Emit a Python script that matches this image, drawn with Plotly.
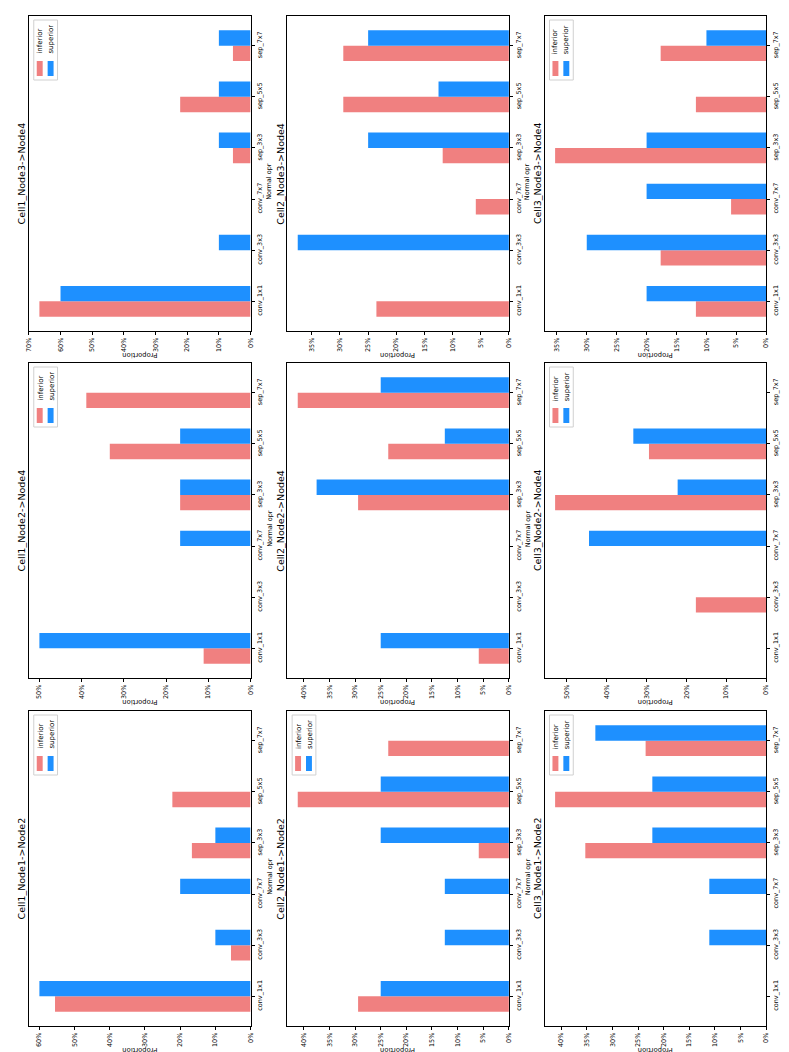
import plotly.graph_objects as go

W, H = 789, 1052

categories = ["conv_1x1", "conv_3x3", "conv_7x7", "sep_3x3", "sep_5x5", "sep_7x7"]
series_names = ["inferior", "superior"]
titles = {
    ("Cell1", "n1n2"): "Cell1_Node1->Node2",
    ("Cell2", "n1n2"): "Cell2_Node1->Node2",
    ("Cell3", "n1n2"): "Cell3_Node1->Node2",
    ("Cell1", "n2n4"): "Cell1_Node2->Node4",
    ("Cell2", "n2n4"): "Cell2_Node2->Node4",
    ("Cell3", "n2n4"): "Cell3_Node2->Node4",
    ("Cell1", "n3n4"): "Cell1_Node3->Node4",
    ("Cell2", "n3n4"): "Cell2_Node3->Node4",
    ("Cell3", "n3n4"): "Cell3_Node3->Node4",
}

# proportions (fractions) per category
c1_n1n2_inf = [0.5556, 0.0556, 0.0, 0.1667, 0.2222, 0.0]
c1_n1n2_sup = [0.60, 0.10, 0.20, 0.10, 0.0, 0.0]
c2_n1n2_inf = [0.2941, 0.0, 0.0, 0.0588, 0.4118, 0.2353]
c2_n1n2_sup = [0.25, 0.125, 0.125, 0.25, 0.25, 0.0]
c3_n1n2_inf = [0.0, 0.0, 0.0, 0.3529, 0.4118, 0.2353]
c3_n1n2_sup = [0.0, 0.1111, 0.1111, 0.2222, 0.2222, 0.3333]
c1_n2n4_inf = [0.1111, 0.0, 0.0, 0.1667, 0.3333, 0.3889]
c1_n2n4_sup = [0.50, 0.0, 0.1667, 0.1667, 0.1667, 0.0]
c2_n2n4_inf = [0.0588, 0.0, 0.0, 0.2941, 0.2353, 0.4118]
c2_n2n4_sup = [0.25, 0.0, 0.0, 0.375, 0.125, 0.25]
c3_n2n4_inf = [0.0, 0.1765, 0.0, 0.5294, 0.2941, 0.0]
c3_n2n4_sup = [0.0, 0.0, 0.4444, 0.2222, 0.3333, 0.0]
c1_n3n4_inf = [0.6667, 0.0, 0.0, 0.0556, 0.2222, 0.0556]
c1_n3n4_sup = [0.60, 0.10, 0.0, 0.10, 0.10, 0.10]
c2_n3n4_inf = [0.2353, 0.0, 0.0588, 0.1176, 0.2941, 0.2941]
c2_n3n4_sup = [0.0, 0.375, 0.0, 0.25, 0.125, 0.25]
c3_n3n4_inf = [0.1176, 0.1765, 0.0588, 0.3529, 0.1176, 0.1765]
c3_n3n4_sup = [0.20, 0.30, 0.20, 0.20, 0.0, 0.10]

panels = [
    ("Cell1", "n1n2", c1_n1n2_inf, c1_n1n2_sup, True),
    ("Cell2", "n1n2", c2_n1n2_inf, c2_n1n2_sup, True),
    ("Cell3", "n1n2", c3_n1n2_inf, c3_n1n2_sup, True),
    ("Cell1", "n2n4", c1_n2n4_inf, c1_n2n4_sup, True),
    ("Cell2", "n2n4", c2_n2n4_inf, c2_n2n4_sup, False),
    ("Cell3", "n2n4", c3_n2n4_inf, c3_n2n4_sup, True),
    ("Cell1", "n3n4", c1_n3n4_inf, c1_n3n4_sup, True),
    ("Cell2", "n3n4", c2_n3n4_inf, c2_n3n4_sup, False),
    ("Cell3", "n3n4", c3_n3n4_inf, c3_n3n4_sup, True),
]

COL_INF = "#F08080"
COL_SUP = "#1E90FF"
FONT = "DejaVu Sans"

col_left = {"Cell1": 17, "Cell2": 278, "Cell3": 538}
row_top = {"n1n2": 703, "n2n4": 355, "n3n4": 8}
FW, FH = 224, 315


def pxx(x):
    return x / W


def pxy(y):
    return 1 - y / H


fig = go.Figure()
layout = {}
annotations = []
shapes = []
pos = list(range(len(categories)))

for i, (cell, edge, inf, sup, has_leg) in enumerate(panels):
    n = i + 1
    xs = "x" if n == 1 else f"x{n}"
    ys = "y" if n == 1 else f"y{n}"
    L, T = col_left[cell], row_top[edge]
    vmax = max(max(inf), max(sup))
    rmax = vmax * 1.05
    dt = 0.1 if rmax > 0.45 else 0.05

    fig.add_trace(go.Bar(x=inf, y=pos, orientation="h", width=0.3, offset=-0.3,
                         marker=dict(color=COL_INF, line=dict(width=0)),
                         name=series_names[0], showlegend=False, xaxis=xs, yaxis=ys))
    fig.add_trace(go.Bar(x=sup, y=pos, orientation="h", width=0.3, offset=0.0,
                         marker=dict(color=COL_SUP, line=dict(width=0)),
                         name=series_names[1], showlegend=False, xaxis=xs, yaxis=ys))

    xk = "xaxis" if n == 1 else f"xaxis{n}"
    yk = "yaxis" if n == 1 else f"yaxis{n}"
    layout[xk] = dict(domain=[pxx(L), pxx(L + FW)], anchor=ys, range=[rmax, 0],
                      tickformat=".0%", tick0=0, dtick=dt, tickangle=-90,
                      ticks="outside", ticklen=3, tickwidth=1, tickcolor="black",
                      showline=True, mirror=True, linecolor="black", linewidth=1,
                      showgrid=False, zeroline=False,
                      tickfont=dict(size=6.5, family=FONT, color="black"))
    layout[yk] = dict(domain=[pxy(T + FH), pxy(T)], anchor=xs, side="right",
                      range=[-0.58, 5.58], tickvals=pos, ticktext=categories,
                      tickangle=-90, ticks="outside", ticklen=3, tickwidth=1,
                      tickcolor="black", showline=True, mirror=True,
                      linecolor="black", linewidth=1, showgrid=False, zeroline=False,
                      tickfont=dict(size=6.5, family=FONT, color="black"))

    annotations.append(dict(text=titles[(cell, edge)], x=pxx(L - 7), y=pxy(T + FH / 2),
                            xref="paper", yref="paper", textangle=-90, showarrow=False,
                            xanchor="center", yanchor="middle",
                            font=dict(size=9.5, family=FONT, color="black")))
    annotations.append(dict(text="Proportion", x=pxx(L + FW / 2), y=pxy(T + FH + 24),
                            xref="paper", yref="paper", textangle=180, showarrow=False,
                            xanchor="center", yanchor="middle", borderpad=0,
                            font=dict(size=6.8, family=FONT, color="black")))
    annotations.append(dict(text="Normal opr", x=pxx(L + FW + 19), y=pxy(T + FH / 2 + 8),
                            xref="paper", yref="paper", textangle=-90, showarrow=False,
                            xanchor="center", yanchor="middle",
                            font=dict(size=6.5, family=FONT, color="black")))

    if has_leg:
        shapes.append(dict(type="rect", xref="paper", yref="paper",
                           x0=pxx(L + 5), x1=pxx(L + 29), y0=pxy(T + 64), y1=pxy(T + 4),
                           line=dict(color="#d0d0d0", width=1), fillcolor="white"))
        for k, (col, cx) in enumerate([(COL_INF, 11), (COL_SUP, 22)]):
            shapes.append(dict(type="rect", xref="paper", yref="paper",
                               x0=pxx(L + cx - 3), x1=pxx(L + cx + 3),
                               y0=pxy(T + 60), y1=pxy(T + 45),
                               line=dict(width=0), fillcolor=col))
            annotations.append(dict(text=series_names[k], x=pxx(L + cx + 0.5),
                                    y=pxy(T + 40), xref="paper", yref="paper",
                                    textangle=-90, showarrow=False,
                                    xanchor="center", yanchor="bottom",
                                    font=dict(size=7, family=FONT, color="black")))

fig.update_layout(**layout)
fig.update_layout(width=W, height=H, margin=dict(l=0, r=0, t=0, b=0),
                  paper_bgcolor="white", plot_bgcolor="white", barmode="overlay",
                  showlegend=False, annotations=annotations, shapes=shapes,
                  font=dict(family=FONT, color="black"))

fig.write_html("out.html")
